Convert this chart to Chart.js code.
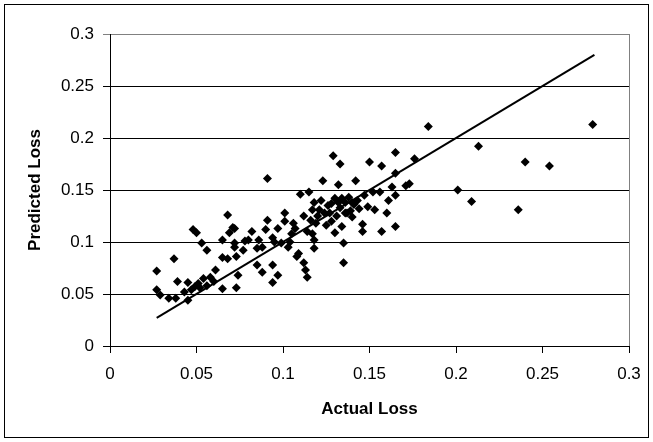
<!DOCTYPE html>
<html>
<head>
<meta charset="utf-8">
<script src="https://cdn.jsdelivr.net/npm/chart.js@4/dist/chart.umd.min.js"></script>
<style>
  html, body { margin: 0; padding: 0; background: #fff; }
  #wrap { position: relative; width: 653px; height: 442px; }
</style>
</head>
<body>
<div id="wrap"><canvas id="lossChart"></canvas></div>
<script>
// ---------- Data ----------
const ACTUAL = [
  0.027,0.027,0.029,0.034,0.038,0.037,0.039,0.043,0.045,0.045,0.047,0.049,0.048,0.050,0.051,0.052,0.053,0.054,0.056,0.058,
  0.061,0.065,0.065,0.065,0.068,0.068,0.069,0.071,0.072,0.072,0.072,0.073,0.073,0.074,0.060,0.056,
  0.077,0.080,0.082,0.085,0.086,0.088,0.088,0.090,0.091,0.091,0.094,0.094,0.094,0.097,0.097,0.101,0.101,0.103,0.105,0.107,
  0.108,0.109,0.110,0.112,0.113,0.114,0.114,0.115,0.116,0.117,0.118,0.118,0.118,0.120,0.099,0.104,0.106,0.112,0.095,0.085,0.078,
  0.119,0.117,
  0.121,0.122,0.123,0.125,0.126,0.127,0.128,0.129,0.130,0.130,0.131,0.132,0.133,0.133,0.134,0.135,0.135,0.136,0.137,0.138,
  0.139,0.140,0.141,0.142,0.143,0.144,0.146,0.146,0.147,0.149,0.150,0.152,0.153,0.156,0.157,0.157,0.160,0.161,0.163,0.165,
  0.165,0.165,0.165,0.171,0.173,0.176,0.124,0.128,0.132,0.134,0.136,0.140,
  0.184,0.201,0.209,0.213,0.236,0.240,0.254,0.279
];
const PREDICTED = [
  0.072,0.054,0.049,0.046,0.046,0.084,0.062,0.052,0.061,0.044,0.054,0.057,0.112,0.109,0.060,0.056,0.099,0.065,0.092,0.066,
  0.073,0.102,0.085,0.055,0.126,0.084,0.109,0.114,0.099,0.113,0.095,0.086,0.056,0.068,0.062,0.058,
  0.092,0.102,0.110,0.078,0.102,0.095,0.071,0.112,0.121,0.161,0.104,0.078,0.061,0.113,0.068,0.128,0.120,0.095,0.108,0.113,
  0.086,0.089,0.146,0.080,0.073,0.066,0.110,0.148,0.121,0.131,0.138,0.102,0.094,0.125,0.099,0.100,0.118,0.125,0.100,0.094,0.101,
  0.118,0.108,
  0.131,0.140,0.159,0.116,0.135,0.128,0.137,0.183,0.109,0.142,0.125,0.155,0.175,0.133,0.115,0.099,0.080,0.138,0.128,0.143,
  0.130,0.124,0.136,0.159,0.140,0.132,0.117,0.110,0.145,0.134,0.177,0.148,0.131,0.148,0.173,0.110,0.128,0.140,0.153,0.186,
  0.166,0.145,0.115,0.154,0.156,0.180,0.128,0.120,0.138,0.142,0.128,0.138,
  0.211,0.150,0.139,0.192,0.131,0.177,0.173,0.213
];
// reference line (predicted = actual)
const FIT_X = [0.027, 0.280];
const FIT_Y = [0.027, 0.280];

const AXIS_MIN = 0, AXIS_MAX = 0.3, AXIS_STEP = 0.05;

const pts = ACTUAL.map((x, i) => ({ x, y: PREDICTED[i] }));
const fit = FIT_X.map((x, i) => ({ x, y: FIT_Y[i] }));

// ---------- Excel-like frame ----------
const framePlugin = {
  id: 'frame',
  beforeDraw(c) {
    const g = c.ctx;
    g.save();
    g.strokeStyle = '#000';
    g.lineWidth = 1;
    g.strokeRect(4.5, 4.5, 644, 433);
    g.restore();
  },
  afterDatasetsDraw(c) {
    const { right, top, bottom } = c.chartArea;
    const g = c.ctx;
    g.save();
    g.strokeStyle = '#808080';
    g.lineWidth = 1;
    g.beginPath();
    g.moveTo(Math.round(right) + 0.5, top);
    g.lineTo(Math.round(right) + 0.5, bottom);
    g.stroke();
    g.restore();
  }
};

const fmtTick = v => String(+v.toFixed(2));
const FONT = { family: '"Liberation Sans", Arial, sans-serif', size: 17 };

new Chart(document.getElementById('lossChart'), {
  type: 'scatter',
  data: {
    datasets: [
      {
        label: 'Loss',
        data: pts,
        pointStyle: 'rectRot',
        pointRadius: 4.5,
        backgroundColor: '#000',
        borderColor: '#000',
        borderWidth: 0
      },
      {
        label: 'Fit',
        type: 'line',
        data: fit,
        borderColor: '#000',
        borderWidth: 2,
        pointRadius: 0,
        fill: false
      }
    ]
  },
  options: {
    responsive: true,
    maintainAspectRatio: false,
    animation: false,
    layout: { padding: { top: 34, right: 24, left: 22, bottom: 22 } },
    plugins: { legend: { display: false }, tooltip: { enabled: false } },
    scales: {
      x: {
        type: 'linear',
        min: AXIS_MIN, max: AXIS_MAX,
        afterFit: s => { s.height = 74; },
        ticks: { stepSize: AXIS_STEP, color: '#000', font: FONT, padding: 11, maxRotation: 0, callback: fmtTick },
        grid: { drawOnChartArea: false, tickLength: 7, color: '#000' },
        border: { color: '#000', width: 1 },
        title: { display: true, text: 'Actual Loss', color: '#000', font: { ...FONT, weight: 'bold' }, padding: { top: 1, bottom: 0 } }
      },
      y: {
        type: 'linear',
        min: AXIS_MIN, max: AXIS_MAX,
        afterFit: s => { s.width = 88; },
        ticks: { stepSize: AXIS_STEP, color: '#000', font: FONT, padding: 9, callback: fmtTick },
        grid: {
          tickLength: 7,
          color: ctx => (ctx.tick && Math.abs(ctx.tick.value - AXIS_MAX) < 1e-9) ? '#808080' : '#000'
        },
        border: { color: '#000', width: 1 },
        title: { display: true, text: 'Predicted Loss', color: '#000', font: { ...FONT, weight: 'bold' }, padding: { top: 3, bottom: 0 } }
      }
    }
  },
  plugins: [framePlugin]
});
</script>
</body>
</html>
